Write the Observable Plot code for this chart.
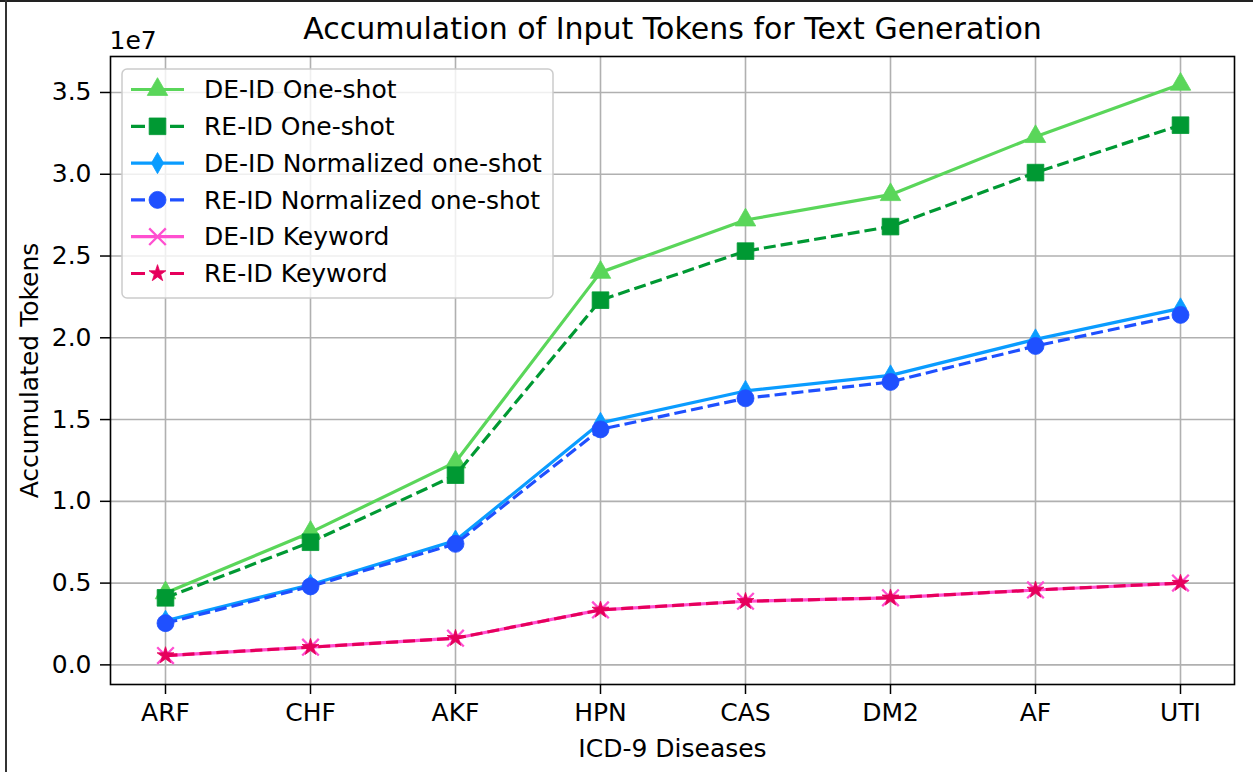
<!DOCTYPE html>
<html>
<head>
<meta charset="utf-8">
<script src="https://cdn.jsdelivr.net/npm/d3@7"></script>
<script src="https://cdn.jsdelivr.net/npm/@observablehq/plot@0.6"></script>
<style>
  html, body { margin: 0; padding: 0; background: #fff; }
  #wrap { position: relative; width: 1253px; height: 772px; overflow: hidden; }
  #topline { position: absolute; left: 0; top: 0; width: 1253px; height: 2px; background: #222; }
  #leftline { position: absolute; left: 5px; top: 0; width: 1.5px; height: 772px; background: #333; }
</style>
</head>
<body>
<div id="wrap"><div id="topline"></div><div id="leftline"></div></div>
<script>
const categories = ["ARF", "CHF", "AKF", "HPN", "CAS", "DM2", "AF", "UTI"];
const deIdOneShot     = [4.4e6, 8.1e6, 12.4e6, 24.0e6, 27.2e6, 28.75e6, 32.3e6, 35.5e6];
const reIdOneShot     = [4.1e6, 7.5e6, 11.6e6, 22.3e6, 25.3e6, 26.8e6, 30.1e6, 33.0e6];
const deIdNormalized  = [2.7e6, 4.9e6, 7.6e6, 14.8e6, 16.75e6, 17.7e6, 19.9e6, 21.8e6];
const reIdNormalized  = [2.55e6, 4.8e6, 7.4e6, 14.4e6, 16.3e6, 17.3e6, 19.5e6, 21.4e6];
const deIdKeyword     = [0.57e6, 1.08e6, 1.63e6, 3.36e6, 3.89e6, 4.1e6, 4.58e6, 5.0e6];
const reIdKeyword     = [0.57e6, 1.08e6, 1.63e6, 3.36e6, 3.89e6, 4.1e6, 4.58e6, 5.0e6];
const seriesNames = ["DE-ID One-shot", "RE-ID One-shot", "DE-ID Normalized one-shot",
                     "RE-ID Normalized one-shot", "DE-ID Keyword", "RE-ID Keyword"];
const yTicks = [0, 0.5e7, 1.0e7, 1.5e7, 2.0e7, 2.5e7, 3.0e7, 3.5e7];
const yTickLabels = ["0.0", "0.5", "1.0", "1.5", "2.0", "2.5", "3.0", "3.5"];
const titleText = "Accumulation of Input Tokens for Text Generation";
const xLabel = "ICD-9 Diseases";
const yLabel = "Accumulated Tokens";
const exponentLabel = "1e7";

const seriesValues = [deIdOneShot, reIdOneShot, deIdNormalized, reIdNormalized, deIdKeyword, reIdKeyword];
const DASH = "12,5";
const styles = [
  {color: "#5ad65a", dash: null, symbol: "triangle", r: 7.6, strokeSym: false},
  {color: "#009933", dash: DASH, symbol: "square",   r: 9.4, strokeSym: false},
  {color: "#0a9cff", dash: null, symbol: "diamond",  r: 6.4, strokeSym: false},
  {color: "#1f50ff", dash: DASH, symbol: "circle",   r: 8.5, strokeSym: false},
  {color: "#ff4fd0", dash: null, symbol: "times",    r: 7.6, strokeSym: true},
  {color: "#e6005c", dash: DASH, symbol: "star",     r: 5.3, strokeSym: false}
];

const series = seriesNames.map((name, s) => ({
  name, style: styles[s],
  data: categories.map((c, i) => ({cat: c, value: seriesValues[s][i]}))
}));

const FONT = "DejaVu Sans";
const FS = 25;
const LW = 3.2;
const marks = [
  Plot.gridX(categories, {stroke: "#b0b0b0", strokeOpacity: 1, strokeWidth: 1.6}),
  Plot.gridY(yTicks, {stroke: "#b0b0b0", strokeOpacity: 1, strokeWidth: 1.6}),
];
for (const s of series) {
  marks.push(Plot.line(s.data, {x: "cat", y: "value", stroke: s.style.color, strokeWidth: LW,
    strokeDasharray: s.style.dash || undefined, strokeLinejoin: "round", strokeLinecap: "butt"}));
  if (s.style.strokeSym) {
    marks.push(Plot.dot(s.data, {x: "cat", y: "value", symbol: s.style.symbol, r: s.style.r,
      stroke: s.style.color, strokeWidth: 2.3, fill: "none"}));
  } else {
    marks.push(Plot.dot(s.data, {x: "cat", y: "value", symbol: s.style.symbol, r: s.style.r,
      fill: s.style.color, stroke: s.style.color, strokeWidth: 0.8}));
  }
}
marks.push(
  Plot.frame({stroke: "#000", strokeWidth: 1.6}),
  Plot.axisX({tickSize: 10, tickPadding: 9, label: null, stroke: "#000", strokeWidth: 1.5, fontSize: FS}),
  Plot.axisY(yTicks, {tickSize: 10, tickPadding: 9, label: null, stroke: "#000", strokeWidth: 1.5, fontSize: FS,
    tickFormat: d => yTickLabels[yTicks.indexOf(d)]}),
  Plot.text([xLabel], {frameAnchor: "bottom", dy: 72, lineAnchor: "bottom", textAnchor: "middle", fontSize: FS, fill: "#000"}),
  Plot.text([yLabel], {frameAnchor: "left", dx: -73, rotate: -90, lineAnchor: "bottom", textAnchor: "middle", fontSize: FS, fill: "#000"}),
  Plot.text([titleText], {frameAnchor: "top", dy: -18, lineAnchor: "bottom", textAnchor: "middle", fontSize: 30, fill: "#000"}),
  Plot.text([exponentLabel], {frameAnchor: "top-left", dy: -8, dx: -1, textAnchor: "start", lineAnchor: "bottom", fontSize: FS, fill: "#000"})
);

const chart = Plot.plot({
  width: 1253, height: 772,
  marginLeft: 110, marginRight: 19, marginTop: 56, marginBottom: 88,
  style: {fontFamily: FONT, fontSize: FS + "px", color: "#000", background: "transparent", overflow: "visible"},
  x: {type: "point", domain: categories, padding: 0.35, label: null},
  y: {domain: [-0.12e7, 3.72e7], label: null},
  marks
});

// legend
const svg = d3.select(chart);
const lg = svg.append("g").attr("font-family", FONT).attr("font-size", FS).attr("text-anchor", "start");
const L = {x: 122, y: 69, w: 431, h: 229, row0: 89.5, step: 36.8};
lg.append("rect").attr("x", L.x).attr("y", L.y).attr("width", L.w).attr("height", L.h)
  .attr("rx", 5).attr("fill", "#fff").attr("fill-opacity", 0.8).attr("stroke", "#cccccc").attr("stroke-width", 1.5);
const symMap = {triangle: d3.symbolTriangle, square: d3.symbolSquare, diamond: d3.symbolDiamond,
  circle: d3.symbolCircle, times: d3.symbolTimes, star: d3.symbolStar};
series.forEach((s, i) => {
  const y = L.row0 + i * L.step;
  lg.append("line").attr("x1", 131).attr("x2", 184).attr("y1", y).attr("y2", y)
    .attr("stroke", s.style.color).attr("stroke-width", LW)
    .attr("stroke-dasharray", s.style.dash ? "14,25" : null);
  const path = d3.symbol().type(symMap[s.style.symbol]).size(Math.PI * s.style.r * s.style.r)();
  const p = lg.append("path").attr("d", path).attr("transform", `translate(157.5,${y})`);
  if (s.style.strokeSym) p.attr("fill", "none").attr("stroke", s.style.color).attr("stroke-width", 2.3);
  else p.attr("fill", s.style.color).attr("stroke", s.style.color).attr("stroke-width", 0.8);
  lg.append("text").attr("x", 204).attr("y", y).attr("dy", "0.35em").attr("fill", "#000")
    .attr("text-anchor", "start").text(s.name);
});

document.getElementById("wrap").prepend(chart);
chart.style.position = "absolute"; chart.style.left = "0"; chart.style.top = "0";
</script>
</body>
</html>
